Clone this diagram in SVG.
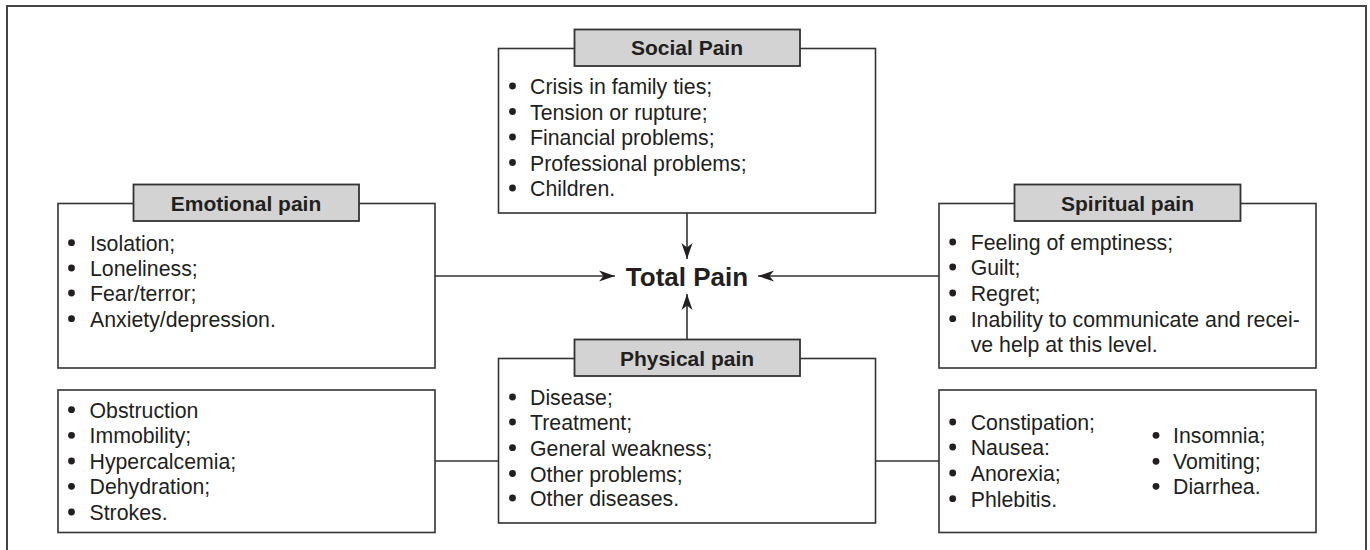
<svg xmlns="http://www.w3.org/2000/svg" width="1370" height="550" viewBox="0 0 1370 550">
<style>
.frame{fill:none;stroke:#444;stroke-width:2}
.box{fill:#fff;stroke:#333;stroke-width:1.6}
.hdr{fill:#d3d3d3;stroke:#333;stroke-width:1.8}
.ht{font-family:"Liberation Sans",Arial,sans-serif;font-weight:bold;font-size:21px;fill:#231f20;text-anchor:middle}
.t{font-family:"Liberation Sans",Arial,sans-serif;font-size:21.3px;fill:#231f20}
.b{fill:#231f20}
.c{stroke:#333;stroke-width:1.6;fill:none}
.total{font-family:"Liberation Sans",Arial,sans-serif;font-weight:bold;font-size:26px;fill:#231f20;text-anchor:middle}
</style>
<defs>
<marker id="ah" markerUnits="userSpaceOnUse" markerWidth="18" markerHeight="12" refX="16" refY="6" orient="auto">
<path d="M0,0.5 L16,6 L0,11.5 L4.5,6 z" fill="#231f20"/>
</marker>
<circle id="bul" r="3.4" class="b"/>
</defs>
<rect width="1370" height="550" fill="#fff"/>
<rect class="frame" x="7" y="6" width="1359" height="570"/>

<g id="connectors">
<line class="c" x1="687" y1="213" x2="687" y2="259" marker-end="url(#ah)"/>
<line class="c" x1="687" y1="339" x2="687" y2="294" marker-end="url(#ah)"/>
<line class="c" x1="435" y1="276" x2="615" y2="276" marker-end="url(#ah)"/>
<line class="c" x1="939" y1="276" x2="758" y2="276" marker-end="url(#ah)"/>
<line class="c" x1="435" y1="461" x2="498" y2="461"/>
<line class="c" x1="876" y1="461" x2="939" y2="461"/>
</g>

<g id="total">
<text class="total" x="687" y="286">Total Pain</text>
</g>

<g id="social">
<rect class="box" x="498.5" y="48.5" width="377" height="164.5"/>
<rect class="hdr" x="574.5" y="29.5" width="225.5" height="36.5"/>
<text class="ht" x="687" y="55">Social Pain</text>
<use href="#bul" x="512.5" y="86"/><text class="t" x="530" y="94">Crisis in family ties;</text>
<use href="#bul" x="512.5" y="111.5"/><text class="t" x="530" y="119.5">Tension or rupture;</text>
<use href="#bul" x="512.5" y="137"/><text class="t" x="530" y="145">Financial problems;</text>
<use href="#bul" x="512.5" y="162.5"/><text class="t" x="530" y="170.5">Professional problems;</text>
<use href="#bul" x="512.5" y="188"/><text class="t" x="530" y="196">Children.</text>
</g>

<g id="emotional">
<rect class="box" x="58" y="203.5" width="377" height="164.5"/>
<rect class="hdr" x="133.5" y="184.5" width="225.5" height="36.5"/>
<text class="ht" x="246" y="211">Emotional pain</text>
<use href="#bul" x="71.5" y="242.7"/><text class="t" x="90" y="250.7">Isolation;</text>
<use href="#bul" x="71.5" y="268"/><text class="t" x="90" y="276">Loneliness;</text>
<use href="#bul" x="71.5" y="293"/><text class="t" x="90" y="301">Fear/terror;</text>
<use href="#bul" x="71.5" y="318.7"/><text class="t" x="90" y="326.7">Anxiety/depression.</text>
</g>

<g id="spiritual">
<rect class="box" x="939" y="203.5" width="377" height="164.5"/>
<rect class="hdr" x="1014.5" y="184.5" width="226" height="36.5"/>
<text class="ht" x="1127.5" y="211">Spiritual pain</text>
<use href="#bul" x="952.7" y="242"/><text class="t" x="970.7" y="250">Feeling of emptiness;</text>
<use href="#bul" x="952.7" y="267"/><text class="t" x="970.7" y="275">Guilt;</text>
<use href="#bul" x="952.7" y="293"/><text class="t" x="970.7" y="301">Regret;</text>
<use href="#bul" x="952.7" y="318.7"/><text class="t" x="970.7" y="326.7">Inability to communicate and recei-</text>
<text class="t" x="970.7" y="351.7">ve help at this level.</text>
</g>

<g id="physical">
<rect class="box" x="498.5" y="358.5" width="377" height="164.5"/>
<rect class="hdr" x="574.5" y="339.5" width="225.5" height="36.5"/>
<text class="ht" x="687" y="366">Physical pain</text>
<use href="#bul" x="512.5" y="397"/><text class="t" x="530" y="405">Disease;</text>
<use href="#bul" x="512.5" y="422"/><text class="t" x="530" y="430">Treatment;</text>
<use href="#bul" x="512.5" y="447.7"/><text class="t" x="530" y="455.7">General weakness;</text>
<use href="#bul" x="512.5" y="473.5"/><text class="t" x="530" y="481.5">Other problems;</text>
<use href="#bul" x="512.5" y="498"/><text class="t" x="530" y="506">Other diseases.</text>
</g>

<g id="physical-left">
<rect class="box" x="58" y="390" width="377" height="142.5"/>
<use href="#bul" x="71.5" y="409.7"/><text class="t" x="89.5" y="417.7">Obstruction</text>
<use href="#bul" x="71.5" y="435.3"/><text class="t" x="89.5" y="443.3">Immobility;</text>
<use href="#bul" x="71.5" y="461"/><text class="t" x="89.5" y="469">Hypercalcemia;</text>
<use href="#bul" x="71.5" y="486.3"/><text class="t" x="89.5" y="494.3">Dehydration;</text>
<use href="#bul" x="71.5" y="512"/><text class="t" x="89.5" y="520">Strokes.</text>
</g>

<g id="physical-right">
<rect class="box" x="939" y="390" width="377" height="142.5"/>
<use href="#bul" x="952.7" y="422"/><text class="t" x="970.7" y="430">Constipation;</text>
<use href="#bul" x="952.7" y="447"/><text class="t" x="970.7" y="455">Nausea:</text>
<use href="#bul" x="952.7" y="473"/><text class="t" x="970.7" y="481">Anorexia;</text>
<use href="#bul" x="952.7" y="498.7"/><text class="t" x="970.7" y="506.7">Phlebitis.</text>
<use href="#bul" x="1156" y="435.3"/><text class="t" x="1173" y="443.3">Insomnia;</text>
<use href="#bul" x="1156" y="461.3"/><text class="t" x="1173" y="469.3">Vomiting;</text>
<use href="#bul" x="1156" y="486.3"/><text class="t" x="1173" y="494.3">Diarrhea.</text>
</g>
</svg>
